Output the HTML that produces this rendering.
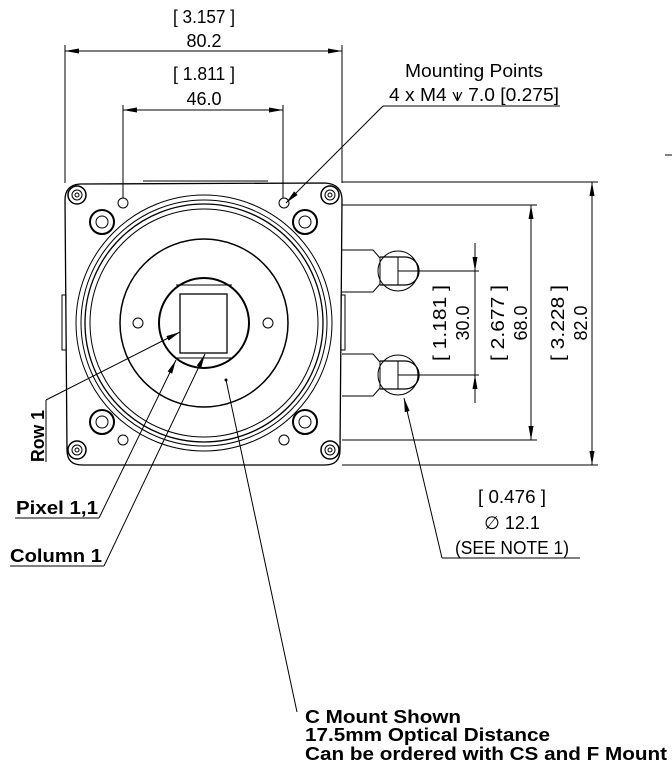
<!DOCTYPE html>
<html><head><style>
html,body{margin:0;padding:0;background:#fff;}
svg{display:block;font-family:"Liberation Sans",sans-serif;}
</style></head><body>
<svg width="672" height="774" viewBox="0 0 672 774" xmlns="http://www.w3.org/2000/svg">
<defs>
<marker id="a" viewBox="0 0 14 6" refX="14" refY="3" markerWidth="14" markerHeight="6" orient="auto-start-reverse" markerUnits="userSpaceOnUse"><path d="M0,0.5 L14,3 L0,5.5 z" fill="#000"/></marker>
</defs>
<g stroke="#000" fill="none" stroke-width="1">
<path d="M80,184 L325,183 Q342,184 342,200 L340,450 Q340,465 325,465 L82,465 Q67,465 67,450 L65,200 Q65,185 80,184 Z" stroke-width="1.3"/>
<line x1="143" y1="181" x2="268" y2="181"/>
<rect x="62" y="295" width="4" height="55"/><rect x="341" y="295" width="4" height="55"/>
<circle cx="204" cy="323" r="128"/>
<circle cx="204" cy="323" r="123"/>
<circle cx="204" cy="323" r="119" stroke-width="1.3"/>
<circle cx="204" cy="323" r="114"/>
<circle cx="204" cy="323" r="84" stroke-width="1.5"/>
<circle cx="204" cy="323" r="45" stroke-width="2"/>
<rect x="180" y="294" width="47" height="59" stroke-width="1.3"/>
<line x1="176" y1="285" x2="232" y2="285"/><line x1="176" y1="358" x2="232" y2="358"/>
<circle cx="138" cy="323" r="5"/><circle cx="268" cy="323" r="5"/>
<g stroke-width="2"><circle cx="102" cy="222" r="12"/><circle cx="305" cy="222" r="12"/><circle cx="102" cy="422" r="12"/><circle cx="305" cy="422" r="12"/></g>
<circle cx="102" cy="222" r="6"/><circle cx="305" cy="222" r="6"/><circle cx="102" cy="422" r="6"/><circle cx="305" cy="422" r="6"/>
<g stroke-width="1.5"><circle cx="77" cy="195" r="9"/><circle cx="330" cy="195" r="9"/><circle cx="77" cy="450" r="9"/><circle cx="330" cy="450" r="9"/></g>
<circle cx="77" cy="195" r="5"/><circle cx="330" cy="195" r="5"/><circle cx="77" cy="450" r="5"/><circle cx="330" cy="450" r="5"/>
<circle cx="77" cy="195" r="2"/><circle cx="330" cy="195" r="2"/><circle cx="77" cy="450" r="2"/><circle cx="330" cy="450" r="2"/>
<circle cx="123" cy="203" r="5"/><circle cx="284" cy="203" r="5"/><circle cx="123" cy="440" r="5"/><circle cx="284" cy="440" r="5"/>
<path d="M342,250 L373,250 L380,258 L380,284 L373,292 L342,292"/>
<path d="M342,354 L373,354 L380,362 L380,388 L373,396 L342,396"/>
<circle cx="398" cy="271" r="20"/><circle cx="398" cy="375" r="20"/>
<path d="M380,257 L405,257 A14,14 0 0 1 405,285 L380,285" stroke-width="1.3"/>
<path d="M380,361 L405,361 A14,14 0 0 1 405,389 L380,389" stroke-width="1.3"/>
<line x1="398" y1="257" x2="398" y2="285"/><line x1="398" y1="361" x2="398" y2="389"/>
<line x1="65" y1="45" x2="65" y2="183"/><line x1="342" y1="45" x2="342" y2="183"/>
<line x1="65" y1="51" x2="342" y2="51" marker-start="url(#a)" marker-end="url(#a)"/>
<line x1="123" y1="105" x2="123" y2="198"/><line x1="283" y1="105" x2="283" y2="198"/>
<line x1="123" y1="110" x2="283" y2="110" marker-start="url(#a)" marker-end="url(#a)"/>
<line x1="383" y1="106" x2="560" y2="106"/>
<line x1="383" y1="106" x2="286" y2="203" marker-end="url(#a)"/>
<line x1="342" y1="182" x2="598" y2="182"/>
<line x1="342" y1="205" x2="537" y2="205"/>
<line x1="398" y1="271" x2="479" y2="271"/>
<line x1="398" y1="375" x2="479" y2="375"/>
<line x1="342" y1="440" x2="537" y2="440"/>
<line x1="342" y1="465" x2="598" y2="465"/>
<line x1="475" y1="243" x2="475" y2="271" marker-end="url(#a)"/>
<line x1="475" y1="403" x2="475" y2="375" marker-end="url(#a)"/>
<line x1="475" y1="271" x2="475" y2="375"/>
<line x1="531" y1="205" x2="531" y2="440" marker-start="url(#a)" marker-end="url(#a)"/>
<line x1="592" y1="182" x2="592" y2="465" marker-start="url(#a)" marker-end="url(#a)"/>
<line x1="442" y1="558" x2="580" y2="558"/>
<line x1="442" y1="558" x2="404" y2="398" marker-end="url(#a)"/>
<line x1="46" y1="400" x2="46" y2="462"/>
<line x1="46" y1="400" x2="180" y2="332" marker-end="url(#a)"/>
<line x1="15" y1="518" x2="99" y2="518"/>
<line x1="99" y1="518" x2="176" y2="360" marker-end="url(#a)"/>
<line x1="10" y1="566" x2="104" y2="566"/>
<line x1="104" y1="566" x2="205" y2="354" marker-end="url(#a)"/>
<line x1="226" y1="380" x2="297" y2="712"/>
<line x1="665" y1="155" x2="672" y2="155"/>
</g>
<circle cx="226" cy="380" r="1.5" fill="#000"/>
<g font-size="18" fill="#000" text-anchor="middle">
<text x="204" y="23" textLength="62" lengthAdjust="spacingAndGlyphs">[ 3.157 ]</text>
<text x="204" y="47">80.2</text>
<text x="204" y="80" textLength="62" lengthAdjust="spacingAndGlyphs">[ 1.811 ]</text>
<text x="204" y="105">46.0</text>
<text x="474" y="77" textLength="138" lengthAdjust="spacingAndGlyphs">Mounting Points</text>
<text x="474" y="101" textLength="170" lengthAdjust="spacingAndGlyphs">4 x M4 ⩛ 7.0 [0.275]</text>
<text x="512" y="503" textLength="68" lengthAdjust="spacingAndGlyphs">[ 0.476 ]</text>
<text x="512" y="529">∅ 12.1</text>
<text x="512" y="554" textLength="114" lengthAdjust="spacingAndGlyphs">(SEE NOTE 1)</text>
<text transform="translate(446,323) rotate(-90)" textLength="76" lengthAdjust="spacingAndGlyphs">[ 1.181 ]</text>
<text transform="translate(469,323) rotate(-90)">30.0</text>
<text transform="translate(504,323) rotate(-90)" textLength="76" lengthAdjust="spacingAndGlyphs">[ 2.677 ]</text>
<text transform="translate(527,323) rotate(-90)">68.0</text>
<text transform="translate(564,323) rotate(-90)" textLength="76" lengthAdjust="spacingAndGlyphs">[ 3.228 ]</text>
<text transform="translate(587,323) rotate(-90)">82.0</text>
</g>
<g font-size="18" font-weight="bold" fill="#000">
<text transform="translate(44,462) rotate(-90)" textLength="52" lengthAdjust="spacingAndGlyphs">Row 1</text>
<text x="16" y="514" textLength="82" lengthAdjust="spacingAndGlyphs">Pixel 1,1</text>
<text x="10" y="562" textLength="92" lengthAdjust="spacingAndGlyphs">Column 1</text>
<text x="305" y="723" textLength="156" lengthAdjust="spacingAndGlyphs">C Mount Shown</text>
<text x="305" y="741" textLength="245" lengthAdjust="spacingAndGlyphs">17.5mm Optical Distance</text>
<text x="305" y="760" textLength="362" lengthAdjust="spacingAndGlyphs">Can be ordered with CS and F Mount</text>
</g>
</svg>
</body></html>
